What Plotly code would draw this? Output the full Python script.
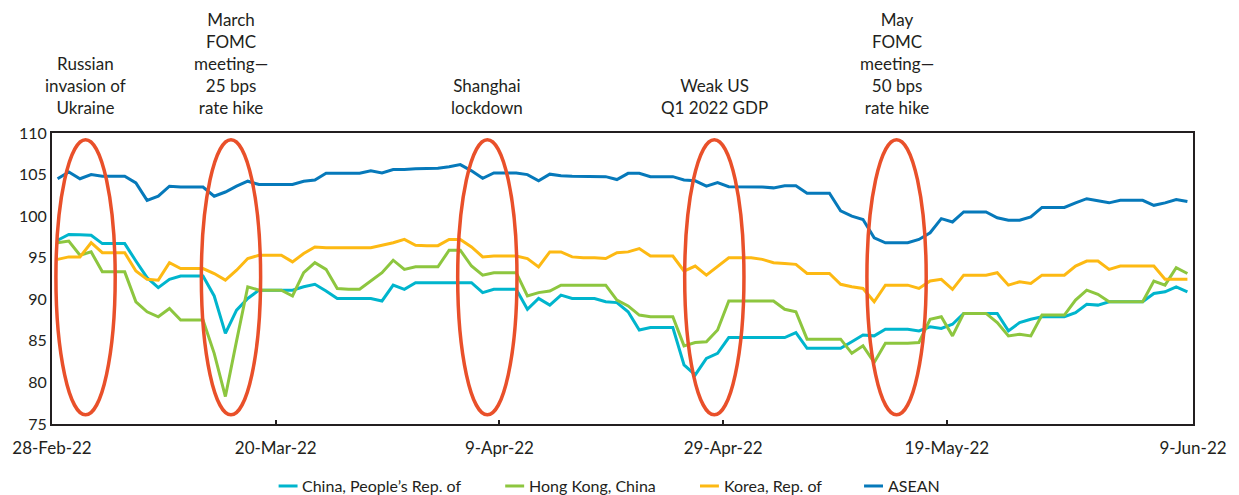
import pandas as pd
import plotly.graph_objects as go

# Daily index values, 28 Feb 2022 – 9 Jun 2022
dates = pd.date_range("2022-02-28", "2022-06-09", freq="D")

china = [
    97.1, 97.8, 97.75, 97.7, 96.7, 96.7, 96.7, 94.6, 92.6, 91.4,
    92.4, 92.8, 92.8, 92.8, 90.4, 85.9, 88.7, 90.1, 91.1, 91.1,
    91.1, 91.1, 91.5, 91.8, 91.0, 90.1, 90.1, 90.1, 90.1, 89.8,
    91.7, 91.2, 92.0, 92.0, 92.0, 92.0, 92.0, 92.0, 90.8, 91.2,
    91.2, 91.2, 88.8, 90.1, 89.3, 90.5, 90.1, 90.1, 90.1, 89.7,
    89.6, 88.5, 86.3, 86.6, 86.6, 86.6, 82.1, 80.9, 82.9, 83.5,
    85.4, 85.4, 85.4, 85.4, 85.4, 85.4, 86.0, 84.1, 84.1, 84.1,
    84.1, 84.9, 85.7, 85.6, 86.4, 86.4, 86.4, 86.2, 86.7, 86.5,
    87.0, 88.3, 88.3, 88.3, 88.3, 86.2, 87.2, 87.6, 87.9, 87.9,
    87.9, 88.4, 89.4, 89.3, 89.7, 89.7, 89.7, 89.7, 90.7, 90.9,
    91.5, 90.9,
]
hong_kong = [
    96.8, 97.0, 95.3, 95.7, 93.3, 93.3, 93.3, 89.7, 88.5, 87.9,
    88.9, 87.5, 87.5, 87.5, 83.5, 78.3, 85.0, 91.5, 91.1, 91.1,
    91.1, 90.4, 93.2, 94.4, 93.6, 91.3, 91.2, 91.2, 92.2, 93.2,
    94.7, 93.6, 93.9, 93.9, 93.9, 95.9, 95.9, 94.0, 92.9, 93.2,
    93.2, 93.2, 90.4, 90.8, 91.0, 91.7, 91.7, 91.7, 91.7, 91.7,
    89.9, 89.2, 88.1, 87.9, 87.9, 87.9, 84.4, 84.8, 84.9, 86.3,
    89.8, 89.8, 89.8, 89.8, 89.8, 88.8, 88.5, 85.2, 85.2, 85.2,
    85.2, 83.5, 84.4, 82.4, 84.7, 84.7, 84.7, 84.8, 87.6, 87.9,
    85.6, 88.3, 88.3, 88.3, 87.2, 85.6, 85.8, 85.6, 88.1, 88.1,
    88.1, 89.9, 91.1, 90.6, 89.7, 89.7, 89.7, 89.7, 92.2, 91.7,
    93.8, 93.1,
]
korea = [
    94.8, 95.1, 95.1, 96.8, 95.6, 95.6, 95.6, 93.4, 92.4, 92.3,
    94.4, 93.7, 93.7, 93.7, 93.1, 92.3, 93.5, 94.9, 95.3, 95.3,
    95.3, 94.5, 95.5, 96.3, 96.2, 96.2, 96.2, 96.2, 96.2, 96.5,
    96.8, 97.2, 96.5, 96.45, 96.45, 97.2, 97.2, 96.3, 95.1, 95.2,
    95.2, 95.2, 94.9, 93.9, 95.7, 95.7, 95.1, 95.0, 95.0, 94.9,
    95.6, 95.7, 96.1, 95.2, 95.2, 95.2, 93.4, 94.0, 92.9, 93.9,
    95.0, 95.0, 95.0, 94.8, 94.4, 94.3, 94.2, 93.1, 93.1, 93.1,
    91.8, 91.5, 91.3, 89.7, 91.7, 91.7, 91.7, 91.3, 92.2, 92.4,
    91.2, 92.9, 92.9, 92.9, 93.2, 91.7, 92.1, 91.9, 92.9, 92.9,
    92.9, 94.0, 94.6, 94.6, 93.6, 94.0, 94.0, 94.0, 94.0, 92.4,
    92.4, 92.4,
]
asean = [
    104.5, 105.3, 104.5, 105.0, 104.8, 104.8, 104.8, 104.0, 101.9, 102.4,
    103.6, 103.5, 103.5, 103.5, 102.4, 102.9, 103.6, 104.2, 103.8, 103.8,
    103.8, 103.8, 104.2, 104.35, 105.15, 105.15, 105.15, 105.15, 105.45, 105.2,
    105.6, 105.6, 105.7, 105.75, 105.75, 105.95, 106.2, 105.45, 104.55, 105.2,
    105.2, 105.2, 105.0, 104.25, 105.05, 104.85, 104.8, 104.8, 104.8, 104.75,
    104.4, 105.15, 105.15, 104.75, 104.75, 104.75, 104.35, 104.25, 103.6, 104.05,
    103.55, 103.55, 103.55, 103.5, 103.4, 103.65, 103.65, 102.75, 102.75, 102.75,
    100.65, 100.0, 99.6, 97.4, 96.8, 96.8, 96.8, 97.2, 98.0, 99.7,
    99.3, 100.5, 100.5, 100.5, 99.8, 99.5, 99.5, 99.9, 101.05, 101.05,
    101.05, 101.6, 102.1, 101.85, 101.6, 101.9, 101.9, 101.9, 101.3, 101.6,
    102.0, 101.75,
]

series_names = ["China, People’s Rep. of", "Hong Kong, China", "Korea, Rep. of", "ASEAN"]
series_values = [china, hong_kong, korea, asean]
series_colors = ["#00B5CD", "#8DC63F", "#FDB913", "#0679BA"]

tick_dates = ["2022-02-28", "2022-03-20", "2022-04-09", "2022-04-29", "2022-05-19", "2022-06-09"]

event_labels = [
    "Russian<br>invasion of<br>Ukraine",
    "March<br>FOMC<br>meeting—<br>25 bps<br>rate hike",
    "Shanghai<br>lockdown",
    "Weak US<br>Q1 2022 GDP",
    "May<br>FOMC<br>meeting—<br>50 bps<br>rate hike",
]
event_centers = [
    "2022-03-02 12:00",
    "2022-03-15 12:00",
    "2022-04-07 10:00",
    "2022-04-27 17:00",
    "2022-05-14 00:00",
]

FONT = "Lato, 'Open Sans', sans-serif"
TEXT = "#231F20"
HALF_DAY = pd.Timedelta(hours=12)

fig = go.Figure()
for name, vals, col in zip(series_names, series_values, series_colors):
    fig.add_trace(go.Scatter(
        x=dates, y=vals, name=name, mode="lines",
        line=dict(color=col, width=3), showlegend=False,
    ))

# Event ellipses and their captions
half_width = pd.Timedelta(days=2.65)
for label, c in zip(event_labels, event_centers):
    ct = pd.Timestamp(c)
    fig.add_shape(
        type="circle", xref="x", yref="y",
        x0=ct - half_width, x1=ct + half_width, y0=76.1, y1=109.2,
        line=dict(color="#E9502A", width=3.5), layer="above",
    )
    fig.add_annotation(
        x=ct, xref="x", y=1.045, yref="paper", yanchor="bottom",
        text=label, showarrow=False, align="center",
        font=dict(family=FONT, size=17, color=TEXT),
    )

# Key below the chart: short coloured dash followed by the series name
key_left = [0.1986, 0.3972, 0.5679, 0.7117]   # paper x of each dash
key_y = -0.213
dash_len = 0.0166
for name, col, x0 in zip(series_names, series_colors, key_left):
    fig.add_shape(
        type="line", xref="paper", yref="paper",
        x0=x0, x1=x0 + dash_len, y0=key_y, y1=key_y,
        line=dict(color=col, width=3),
    )
    fig.add_annotation(
        x=x0 + dash_len + 0.0025, xref="paper", y=key_y, yref="paper",
        xanchor="left", yanchor="middle", text=name, showarrow=False,
        font=dict(family=FONT, size=16, color=TEXT),
    )

# Day labels sit on the day boundaries; the final label closes the axis
tick_vals = [pd.Timestamp(d) - HALF_DAY for d in tick_dates[:-1]] + [pd.Timestamp(tick_dates[-1]) + HALF_DAY]
tick_text = [pd.Timestamp(d).strftime("%-d-%b-%y") for d in tick_dates]

fig.update_layout(
    width=1239, height=495,
    margin=dict(l=52, r=39, t=133, b=71),
    paper_bgcolor="white", plot_bgcolor="white",
    font=dict(family=FONT, size=16, color=TEXT),
    showlegend=False,
    xaxis=dict(
        type="date",
        range=[dates[0] - HALF_DAY, dates[-1] + HALF_DAY],
        tickvals=tick_vals, ticktext=tick_text,
        ticks="inside", ticklen=4, tickwidth=1.5, tickcolor=TEXT,
        ticklabelstandoff=8,
        showline=True, linecolor=TEXT, linewidth=2, mirror=True,
        showgrid=False, zeroline=False,
        tickfont=dict(family=FONT, size=17, color=TEXT),
    ),
    yaxis=dict(
        range=[75, 110], dtick=5, tick0=75,
        ticks="", showline=True, linecolor=TEXT, linewidth=2, mirror=True,
        showgrid=False, zeroline=False,
        tickfont=dict(family=FONT, size=16, color=TEXT),
    ),
)

fig.write_html("out.html")
